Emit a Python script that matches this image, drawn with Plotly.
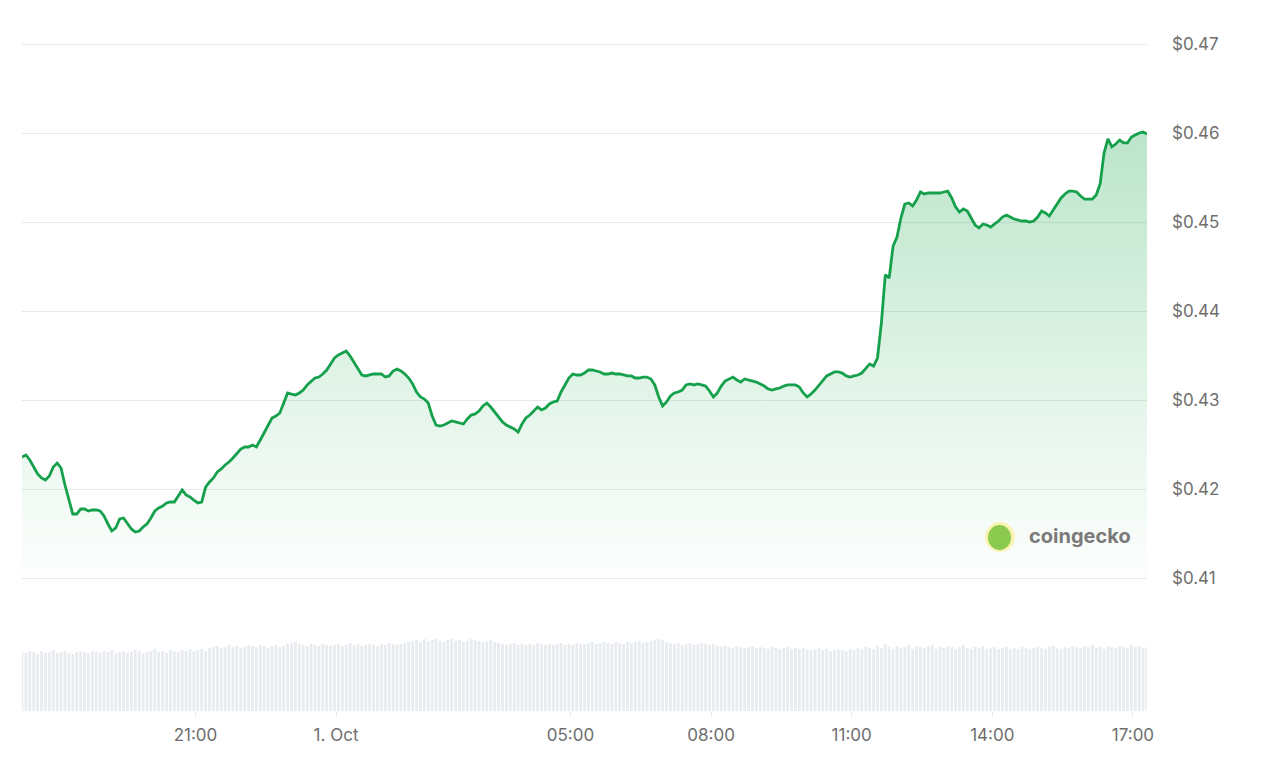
import pandas as pd
import plotly.graph_objects as go

# ---- data ----
start_time = "2024-09-30 17:18"
n_points = 289  # 5-minute samples over 24h

price = [
    0.42360, 0.42382, 0.42326, 0.42247, 0.42169, 0.42124, 0.42101, 0.42146, 0.42247, 0.42292,
    0.42236, 0.42045, 0.41876, 0.41719, 0.41719, 0.41775, 0.41775, 0.41753, 0.41764, 0.41764,
    0.41753, 0.41697, 0.41607, 0.41528, 0.41562, 0.41663, 0.41674, 0.41618, 0.41551, 0.41517,
    0.41528, 0.41573, 0.41607, 0.41674, 0.41753, 0.41787, 0.41809, 0.41843, 0.41854, 0.41854,
    0.41921, 0.41989, 0.41933, 0.41910, 0.41876, 0.41843, 0.41854, 0.42022, 0.42079, 0.42124,
    0.42191, 0.42225, 0.42270, 0.42303, 0.42348, 0.42393, 0.42449, 0.42472, 0.42472, 0.42494,
    0.42472, 0.42551, 0.42629, 0.42708, 0.42798, 0.42820, 0.42854, 0.42966, 0.43079, 0.43067,
    0.43056, 0.43079, 0.43112, 0.43169, 0.43213, 0.43247, 0.43258, 0.43292, 0.43337, 0.43405,
    0.43472, 0.43506, 0.43528, 0.43551, 0.43494, 0.43427, 0.43360, 0.43281, 0.43270, 0.43281,
    0.43292, 0.43292, 0.43292, 0.43258, 0.43270, 0.43326, 0.43348, 0.43326, 0.43292, 0.43247,
    0.43180, 0.43090, 0.43034, 0.43011, 0.42966, 0.42820, 0.42719, 0.42708, 0.42719, 0.42742,
    0.42764, 0.42753, 0.42742, 0.42730, 0.42787, 0.42831, 0.42843, 0.42876, 0.42933, 0.42966,
    0.42921, 0.42865, 0.42798, 0.42753, 0.42719, 0.42697, 0.42674, 0.42640, 0.42730, 0.42798,
    0.42831, 0.42876, 0.42921, 0.42888, 0.42910, 0.42955, 0.42978, 0.42989, 0.43090, 0.43169,
    0.43247, 0.43292, 0.43281, 0.43281, 0.43303, 0.43337, 0.43337, 0.43326, 0.43315, 0.43292,
    0.43292, 0.43303, 0.43292, 0.43292, 0.43281, 0.43270, 0.43270, 0.43247, 0.43247, 0.43258,
    0.43258, 0.43236, 0.43169, 0.43034, 0.42933, 0.42978, 0.43045, 0.43079, 0.43090, 0.43112,
    0.43169, 0.43180, 0.43169, 0.43180, 0.43169, 0.43157, 0.43101, 0.43034, 0.43079, 0.43157,
    0.43213, 0.43236, 0.43258, 0.43225, 0.43202, 0.43236, 0.43225, 0.43213, 0.43202, 0.43180,
    0.43157, 0.43124, 0.43112, 0.43124, 0.43135, 0.43157, 0.43169, 0.43169, 0.43169, 0.43146,
    0.43079, 0.43034, 0.43067, 0.43112, 0.43169, 0.43225, 0.43270, 0.43292, 0.43315, 0.43315,
    0.43303, 0.43270, 0.43258, 0.43270, 0.43281, 0.43303, 0.43348, 0.43405, 0.43382, 0.43472,
    0.43865, 0.44405, 0.44371, 0.44730, 0.44831, 0.45045, 0.45202, 0.45214, 0.45180, 0.45247,
    0.45337, 0.45315, 0.45326, 0.45326, 0.45326, 0.45326, 0.45337, 0.45348, 0.45270, 0.45169,
    0.45112, 0.45146, 0.45124, 0.45045, 0.44966, 0.44933, 0.44978, 0.44966, 0.44944, 0.44978,
    0.45011, 0.45056, 0.45079, 0.45056, 0.45034, 0.45022, 0.45011, 0.45011, 0.45000, 0.45011,
    0.45056, 0.45124, 0.45101, 0.45067, 0.45135, 0.45202, 0.45270, 0.45315, 0.45348, 0.45348,
    0.45337, 0.45292, 0.45258, 0.45258, 0.45258, 0.45303, 0.45427, 0.45775, 0.45933, 0.45843,
    0.45876, 0.45921, 0.45888, 0.45888, 0.45955, 0.45978, 0.46000, 0.46011, 0.45989,
]

volume = [
    59, 58, 60, 59, 57, 60, 58, 59, 61, 58,
    59, 60, 58, 57, 59, 60, 59, 58, 60, 59,
    58, 60, 59, 61, 58, 59, 60, 58, 59, 61,
    60, 58, 59, 60, 62, 59, 60, 58, 61, 60,
    59, 61, 60, 62, 60, 61, 62, 60, 63, 64,
    65, 63, 64, 66, 64, 65, 63, 64, 66, 65,
    64, 66, 65, 63, 65, 66, 64, 65, 67, 68,
    69, 67, 66, 65, 67, 66, 65, 67, 66, 65,
    66, 67, 65, 66, 68, 66, 67, 65, 66, 67,
    66, 65, 67, 66, 68, 67, 66, 67, 68, 69,
    70, 71, 69, 72, 70, 71, 72, 70, 69, 71,
    72, 70, 71, 69, 70, 72, 71, 70, 69, 70,
    71, 69, 68, 67, 66, 67, 68, 66, 67, 66,
    67, 66, 68, 67, 66, 67, 66, 67, 68, 66,
    67, 66, 68, 67, 67, 68, 69, 67, 68, 69,
    68, 67, 69, 68, 67, 69, 68, 69, 70, 68,
    69, 70, 71, 72, 71, 69, 68, 67, 68, 66,
    67, 68, 66, 67, 68, 67, 66, 67, 65, 64,
    65, 64, 63, 65, 64, 63, 64, 65, 63, 64,
    63, 62, 64, 63, 62, 63, 64, 62, 63, 62,
    63, 62, 61, 62, 63, 61, 62, 60, 61, 62,
    61, 60, 62, 61, 63, 62, 64, 63, 62, 65,
    63, 67, 64, 62, 65, 63, 64, 66, 62, 65,
    64, 63, 65, 66, 62, 64, 63, 65, 64, 62,
    64, 66, 63, 62, 64, 63, 65, 62, 63, 64,
    62, 63, 64, 62, 63, 62, 64, 63, 62, 63,
    64, 63, 62, 64, 65, 63, 62, 64, 63, 65,
    64, 63, 65, 64, 66, 63, 64, 62, 65, 64,
    63, 65, 64, 63, 66, 64, 65, 63, 64,
]

price_ticks = [0.41, 0.42, 0.43, 0.44, 0.45, 0.46, 0.47]
price_tick_labels = ["$0.41", "$0.42", "$0.43", "$0.44", "$0.45", "$0.46", "$0.47"]
time_ticks = ["2024-09-30 21:00", "2024-10-01 00:00", "2024-10-01 05:00",
              "2024-10-01 08:00", "2024-10-01 11:00", "2024-10-01 14:00",
              "2024-10-01 17:00"]
time_tick_labels = ["21:00", "1. Oct", "05:00", "08:00", "11:00", "14:00", "17:00"]

times = pd.date_range(start_time, periods=n_points, freq="5min")

# ---- figure ----
LINE = "#15a04b"
TEXT = "#6e6e6e"
FONT = "Inter, Roboto, Arial, sans-serif"

fig = go.Figure()

fig.add_trace(go.Bar(
    x=times, y=volume, yaxis="y2", xaxis="x",
    marker=dict(color="#e8ecf0", line=dict(width=0)),
    hoverinfo="skip", showlegend=False,
))

fig.add_trace(go.Scatter(
    x=times, y=price, yaxis="y", xaxis="x", mode="lines",
    line=dict(color=LINE, width=2.8, shape="linear"),
    fill="tozeroy",
    fillgradient=dict(
        type="vertical",
        colorscale=[[0, "rgba(30,170,80,0)"], [0.35, "rgba(30,170,80,0.10)"],
                    [1, "rgba(30,170,80,0.30)"]],
        start=0.4085, stop=0.46,
    ),
    hoverinfo="skip", showlegend=False,
))

# page body has an 8px default offset; layout expressed in figure pixels
H_TOP = 2
H_BOT = 703
plot_h = H_BOT - H_TOP
PL = 14
PW = 1125

fig.update_layout(
    width=1280, height=782,
    margin=dict(l=PL, r=1280 - PL - PW, t=H_TOP, b=782 - H_BOT),
    paper_bgcolor="white", plot_bgcolor="white",
    bargap=0.28,
    font=dict(family=FONT, color=TEXT, size=17),
    xaxis=dict(
        type="date",
        range=[times[0], times[-1]],
        anchor="y2",
        showgrid=False, zeroline=False, showline=False,
        tickvals=time_ticks, ticktext=time_tick_labels,
        ticks="outside", ticklen=5, tickcolor="#e6e6e6", tickwidth=1,
        ticklabelstandoff=4,
        tickfont=dict(family=FONT, size=17, color=TEXT),
    ),
    yaxis=dict(
        domain=[(H_BOT - 592) / plot_h, (H_BOT - 12) / plot_h],
        range=[0.407528, 0.472697],
        side="right",
        anchor="x",
        tickvals=price_ticks, ticktext=price_tick_labels,
        showgrid=True, gridcolor="#e9e9e9", gridwidth=1,
        zeroline=False, showline=False, ticks="",
        ticklabelstandoff=24,
        tickfont=dict(family=FONT, size=17, color=TEXT),
    ),
    yaxis2=dict(
        domain=[0, 80 / plot_h],
        range=[0, 80],
        visible=False,
        anchor="x",
    ),
    showlegend=False,
)

# coingecko watermark (page coords minus 8px body offset)
def px_x(v):
    return (v - 8 - PL) / PW

def px_y(v):
    return (H_BOT - (v - 8)) / plot_h

fig.add_shape(type="circle", xref="paper", yref="paper",
              x0=px_x(985), x1=px_x(1015), y0=px_y(552), y1=px_y(522),
              fillcolor="rgba(250,236,120,0.55)", line=dict(width=0), layer="above")
fig.add_shape(type="circle", xref="paper", yref="paper",
              x0=px_x(988), x1=px_x(1011), y0=px_y(550), y1=px_y(525),
              fillcolor="#8cc94f", line=dict(width=0), layer="above")
fig.add_annotation(text="<b>coingecko</b>", xref="paper", yref="paper",
                   x=px_x(1027), y=px_y(536),
                   xanchor="left", yanchor="middle", showarrow=False,
                   font=dict(family=FONT, size=20, color="#7a7a7a"))

fig.write_html("out.html", config={"displayModeBar": False})
